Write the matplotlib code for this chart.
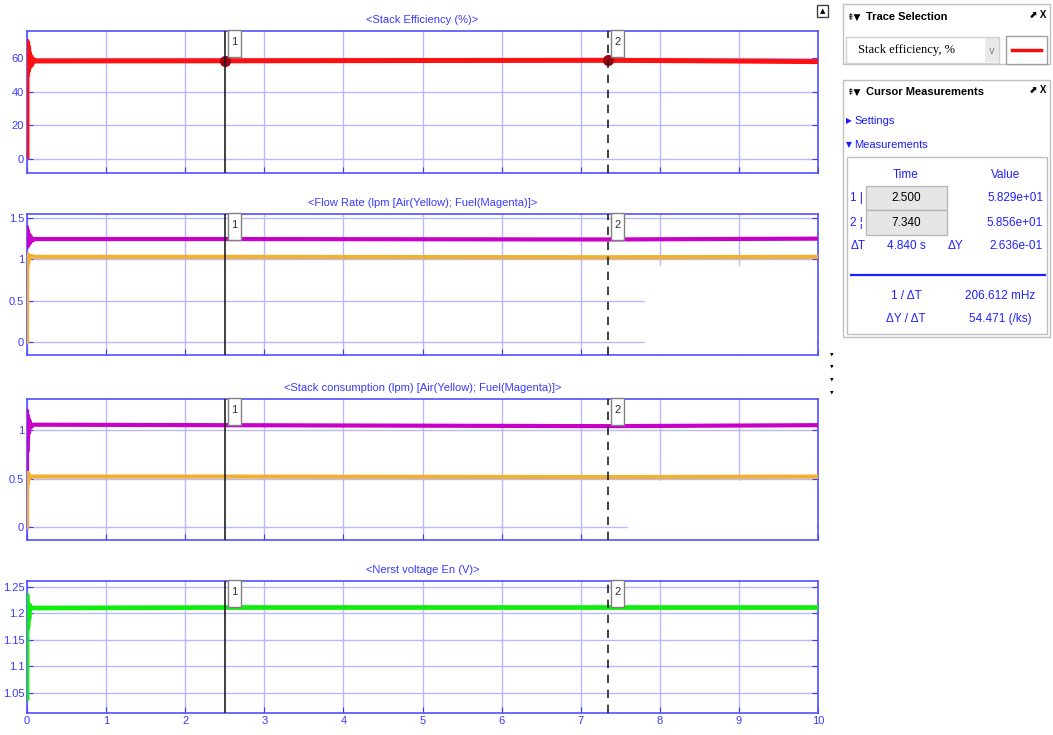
import matplotlib.pyplot as plt
from matplotlib.patches import Rectangle
from matplotlib.transforms import blended_transform_factory

# ---- data ----
t_eff = [0, 0, 0.005, 0.01, 0.015, 0.02, 0.025, 0.03, 0.04, 0.05, 0.06, 0.08, 0.1, 0.3, 1, 2.5, 5, 7.34, 8.5, 10]
eff = [0, 70, 50, 68, 52, 66, 54, 63, 55, 61, 56, 59, 58.2, 58.2, 58.25, 58.29, 58.45, 58.56, 58.3, 57.8]

t_fuel = [0, 0.005, 0.01, 0.02, 0.03, 0.04, 0.05, 0.07, 0.1, 2.5, 7.34, 10]
fuel_flow = [1.38, 1.15, 1.35, 1.18, 1.30, 1.20, 1.27, 1.23, 1.245, 1.245, 1.24, 1.25]
t_air = [0, 0.003, 0.008, 0.015, 0.02, 0.03, 0.05, 0.1, 2.5, 7.34, 10]
air_flow = [0, 0.75, 1.06, 0.95, 1.05, 1.0, 1.04, 1.03, 1.03, 1.025, 1.03]

t_fuel_c = [0, 0, 0.004, 0.008, 0.012, 0.018, 0.025, 0.035, 0.05, 0.08, 2.5, 7.34, 10]
fuel_cons = [0, 1.2, 0.78, 1.15, 0.9, 1.12, 0.97, 1.09, 1.03, 1.055, 1.05, 1.04, 1.05]
t_air_c = [0, 0, 0.005, 0.01, 0.02, 0.03, 0.05, 2.5, 7.34, 10]
air_cons = [0, 0.38, 0.56, 0.45, 0.55, 0.5, 0.52, 0.52, 0.515, 0.52]

t_en = [0, 0, 0.004, 0.008, 0.012, 0.018, 0.025, 0.035, 0.05, 2.5, 7.34, 10]
nernst = [1.04, 1.235, 1.17, 1.22, 1.175, 1.215, 1.19, 1.215, 1.21, 1.211, 1.211, 1.211]

cursor_t = [2.5, 7.34]
cursor_val = [58.29, 58.56]

titles = ['<Stack Efficiency (%)>',
          '<Flow Rate (lpm [Air(Yellow); Fuel(Magenta)]>',
          '<Stack consumption (lpm) [Air(Yellow); Fuel(Magenta)]>',
          '<Nerst voltage En (V)>']
yticks = [[0, 20, 40, 60], [0, 0.5, 1, 1.5], [0, 0.5, 1], [1.05, 1.1, 1.15, 1.2, 1.25]]
yticklabels = [['0', '20', '40', '60'], ['0', '0.5', '1', '1.5'], ['0', '0.5', '1'],
               ['1.05', '1.1', '1.15', '1.2', '1.25']]
ylims = [(-8.4, 76), (-0.157, 1.548), (-0.134, 1.32), (1.012, 1.261)]

W, H = 1053, 735
SANS = ['Liberation Sans', 'DejaVu Sans']
BLUE = '#3a3aff'
GRID = '#b8b8ff'
YELLOW = '#f0b030'
MAGENTA = '#c800c8'


def px(x, y):
    return x / W, 1 - y / H


fig = plt.figure(figsize=(W / 100, H / 100), dpi=100)

# panel boxes in pixels: (top, bottom)
boxes = [(31, 173), (214, 355), (399, 540), (581, 713)]
axes = []
for i, (top, bot) in enumerate(boxes):
    ax = fig.add_axes([27 / W, 1 - bot / H, 791 / W, (bot - top) / H])
    ax.set_xlim(0, 10)
    ax.set_ylim(*ylims[i])
    ax.set_xticks(range(11))
    ax.set_yticks(yticks[i])
    ax.set_yticklabels(yticklabels[i], family=SANS, fontsize=8, color=BLUE)
    ax.set_axisbelow(True)
    ax.grid(True, color=GRID, lw=1)
    for s in ax.spines.values():
        s.set_color('#5050ff')
        s.set_linewidth(1.2)
    ax.tick_params(direction='in', length=4, color=BLUE, left=True, right=True,
                   top=False, bottom=True, pad=2)
    if i < 3:
        ax.set_xticklabels([])
    else:
        ax.set_xticklabels([str(v) for v in range(11)], family=SANS, fontsize=8, color=BLUE)
    ax.set_title(titles[i], family=SANS, fontsize=8, color=BLUE, pad=6)
    axes.append(ax)

# traces
axes[0].plot(t_eff, eff, color='#ff1010', lw=3.6, solid_capstyle='butt', zorder=3)
axes[0].plot(cursor_t, cursor_val, 'o', color='#a00010', ms=7, zorder=4)
axes[1].plot(t_fuel, fuel_flow, color=MAGENTA, lw=3, zorder=3)
axes[1].plot(t_air, air_flow, color=YELLOW, lw=3, zorder=3)
axes[2].plot(t_fuel_c, fuel_cons, color=MAGENTA, lw=3, zorder=3)
axes[2].plot(t_air_c, air_cons, color=YELLOW, lw=3, zorder=3)
axes[3].plot(t_en, nernst, color='#10ee10', lw=3.4, zorder=3)

# erased patches seen in the screenshot
axes[1].add_patch(Rectangle((7.81, -0.145), 2.17, 1.07, color='white', zorder=1))
axes[2].add_patch(Rectangle((7.6, -0.125), 2.38, 0.6, color='white', zorder=1))

# cursors and their labels
for ax, (top, bot) in zip(axes, boxes):
    trans = blended_transform_factory(ax.transData, ax.transAxes)
    hfrac = 27 / (bot - top)
    for k, c in enumerate(cursor_t):
        ax.axvline(c, color='#202020', lw=1.2, ls='-' if k == 0 else (0, (5, 4)), zorder=5)
        ax.add_patch(Rectangle((c + 0.04, 1 - hfrac + 0.01), 0.165, hfrac, transform=trans,
                               facecolor='white', edgecolor='#808080', lw=1, zorder=6,
                               clip_on=False))
        ax.text(c + 0.04 + 0.0825, 1 - 0.4 * hfrac, str(k + 1), transform=trans,
                ha='center', va='center', fontsize=8, family=SANS, color='#303030',
                zorder=7)

# ---- right side: trace selection / cursor measurement panes ----
def box(x0, y0, x1, y1, **kw):
    fig.add_artist(Rectangle(px(x0, y1), (x1 - x0) / W, (y1 - y0) / H,
                             transform=fig.transFigure, **kw))


box(843, 4, 1050, 64, facecolor='white', edgecolor='#c0c0c0', lw=1)
fig.text(*px(846, 17), '⇞▼', fontsize=6.5, va='center', color='black')
fig.text(*px(866, 17), 'Trace Selection', family=SANS, fontsize=8, weight='bold', va='center')
fig.text(*px(1046, 15), '⬈ X', family=SANS, fontsize=7, va='center', ha='right', weight='bold')
box(846, 37, 999, 63, facecolor='white', edgecolor='#d0d0d0', lw=1)
box(985, 38, 999, 62, facecolor='#e8e8e8', edgecolor='none')
fig.text(*px(858, 50), 'Stack efficiency, %', family='Liberation Serif', fontsize=9, va='center')
fig.text(*px(992, 51), 'v', fontsize=7, va='center', ha='center', color='#808080')
box(1006, 36, 1047, 64, facecolor='white', edgecolor='#a0a0a0', lw=1)
fig.add_artist(plt.Line2D([1012 / W, 1041 / W], [1 - 50 / H, 1 - 50 / H], color='#ee1010', lw=2.5))

box(843, 80, 1050, 337, facecolor='white', edgecolor='#c0c0c0', lw=1)
fig.text(*px(846, 92), '⇞▼', fontsize=6.5, va='center')
fig.text(*px(866, 92), 'Cursor Measurements', family=SANS, fontsize=8, weight='bold', va='center')
fig.text(*px(1046, 90), '⬈ X', family=SANS, fontsize=7, va='center', ha='right', weight='bold')
fig.text(*px(846, 121), '▶', fontsize=5.5, va='center', color='#1a1aff')
fig.text(*px(854, 121), 'Settings', family=SANS, fontsize=8, va='center', color='#1a1aff')
fig.text(*px(846, 145), '▼', fontsize=5.5, va='center', color='#1a1aff')
fig.text(*px(854, 145), 'Measurements', family=SANS, fontsize=8, va='center', color='#1a1aff')
box(847, 157, 1047, 334, facecolor='white', edgecolor='#c0c0c0', lw=1)

mcol = '#2020ff'
fs = 8.5
fig.text(*px(906, 175), 'Time', family=SANS, fontsize=fs, ha='center', va='center', color=mcol)
fig.text(*px(1006, 175), 'Value', family=SANS, fontsize=fs, ha='center', va='center', color=mcol)
box(866, 186, 947, 210, facecolor='#e6e6e6', edgecolor='#b8b8b8', lw=1)
box(866, 210, 947, 235, facecolor='#e6e6e6', edgecolor='#b8b8b8', lw=1)
fig.text(*px(850, 198), '1 |', family=SANS, fontsize=fs, va='center', color=mcol)
fig.text(*px(850, 223), '2 ¦', family=SANS, fontsize=fs, va='center', color=mcol)
fig.text(*px(906, 198), f'{cursor_t[0]:.3f}', family=SANS, fontsize=fs, ha='center', va='center')
fig.text(*px(906, 223), f'{cursor_t[1]:.3f}', family=SANS, fontsize=fs, ha='center', va='center')
fig.text(*px(1043, 198), f'{cursor_val[0]:.3e}', family=SANS, fontsize=fs, ha='right', va='center', color=mcol)
fig.text(*px(1043, 223), f'{cursor_val[1]:.3e}', family=SANS, fontsize=fs, ha='right', va='center', color=mcol)
fig.text(*px(851, 246), 'ΔT', family=SANS, fontsize=fs, va='center', color=mcol)
fig.text(*px(906, 246), '4.840 s', family=SANS, fontsize=fs, ha='center', va='center', color=mcol)
fig.text(*px(956, 246), 'ΔY', family=SANS, fontsize=fs, ha='center', va='center', color=mcol)
fig.text(*px(1043, 246), '2.636e-01', family=SANS, fontsize=fs, ha='right', va='center', color=mcol)
fig.add_artist(plt.Line2D([851 / W, 1045 / W], [1 - 275 / H, 1 - 275 / H], color='#2020ff', lw=1.6))
fig.text(*px(906, 296), '1 / ΔT', family=SANS, fontsize=fs, ha='center', va='center', color=mcol)
fig.text(*px(1000, 296), '206.612 mHz', family=SANS, fontsize=fs, ha='center', va='center', color=mcol)
fig.text(*px(906, 319), 'ΔY / ΔT', family=SANS, fontsize=fs, ha='center', va='center', color=mcol)
fig.text(*px(1000, 319), '54.471 (/ks)', family=SANS, fontsize=fs, ha='center', va='center', color=mcol)

# little toolbar bits
box(817, 5, 828, 17, facecolor='white', edgecolor='#404040', lw=1)
fig.text(*px(822.5, 11), '▲', fontsize=5, ha='center', va='center')
for yy in [354, 366, 379, 392]:
    fig.text(*px(831, yy), '▸', fontsize=5, ha='center', va='center', rotation=-90)

fig.savefig('out.png', dpi=100)
